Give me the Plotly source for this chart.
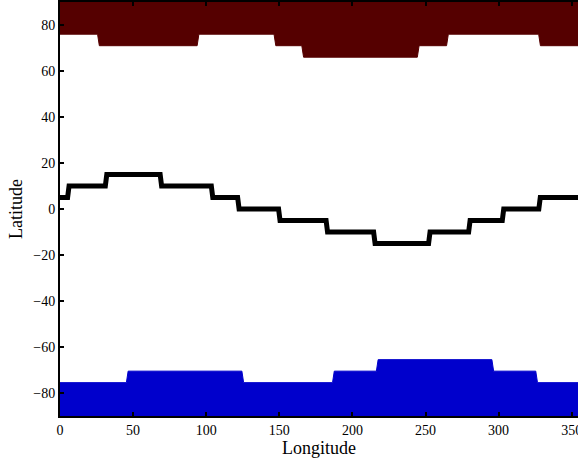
import plotly.graph_objects as go

# Step boundaries (longitude) and levels (latitude)
top_edges = [0, 26.3, 94.4, 147, 166, 245, 265, 328, 360]
top_levels = [76, 71, 76, 71, 66, 71, 76, 71]

bot_edges = [0, 46, 125, 187, 217, 296, 326, 360]
bot_levels = [-75.5, -70.5, -75.5, -70.5, -65.5, -70.5, -75.5]

mid_edges = [0, 5.7, 31.5, 69, 104, 122, 150, 182.5, 215, 252.6, 280, 303, 328, 360]
mid_levels = [5, 10, 15, 10, 5, 0, -5, -10, -15, -10, -5, 0, 5]

x_ticks = [0, 50, 100, 150, 200, 250, 300, 350]
y_ticks = [-80, -60, -40, -20, 0, 20, 40, 60, 80]


def steps(edges, levels, d=0.6):
    xs, ys = [], []
    n = len(levels)
    for i, L in enumerate(levels):
        x0 = edges[i] + (d if i > 0 else 0)
        x1 = edges[i + 1] - (d if i < n - 1 else 0)
        xs += [x0, x1]
        ys += [L, L]
    return xs, ys


fig = go.Figure()

tx, ty = steps(top_edges, top_levels)
fig.add_trace(go.Scatter(x=tx + [360, 0], y=ty + [90, 90], fill="toself",
                         fillcolor="#550000", line=dict(color="#550000", width=1),
                         mode="lines", hoverinfo="skip"))

bx, by = steps(bot_edges, bot_levels)
fig.add_trace(go.Scatter(x=bx + [360, 0], y=by + [-90, -90], fill="toself",
                         fillcolor="#0000cc", line=dict(color="#0000cc", width=1),
                         mode="lines", hoverinfo="skip"))

mx, my = steps(mid_edges, mid_levels, d=0.5)
fig.add_trace(go.Scatter(x=mx, y=my, mode="lines",
                         line=dict(color="black", width=5)))

fig.update_layout(
    width=578, height=458,
    margin=dict(l=60, r=0, t=2, b=42),
    plot_bgcolor="white", paper_bgcolor="white",
    showlegend=False,
    font=dict(family="Liberation Serif", size=14, color="black"),
)
fig.update_xaxes(range=[0, 354.3], tickvals=x_ticks, ticks="inside", ticklen=4,
                 tickwidth=1.5, tickcolor="black", showline=True, linecolor="black",
                 linewidth=2, mirror="ticks", showgrid=False, zeroline=False,
                 ticklabeloverflow="allow", automargin=False,
                 title=dict(text="Longitude", font=dict(size=18, family="Liberation Serif"), standoff=2),
                 tickfont=dict(size=14, family="Liberation Serif"))
fig.update_yaxes(range=[-90, 90], tickvals=y_ticks, ticks="inside", ticklen=4,
                 tickwidth=1.5, tickcolor="black", showline=True, linecolor="black",
                 linewidth=2, mirror=False, showgrid=False, zeroline=False,
                 automargin=False,
                 title=dict(text="Latitude", font=dict(size=18, family="Liberation Serif"), standoff=6),
                 tickfont=dict(size=14, family="Liberation Serif"))

fig.write_html("out.html")
